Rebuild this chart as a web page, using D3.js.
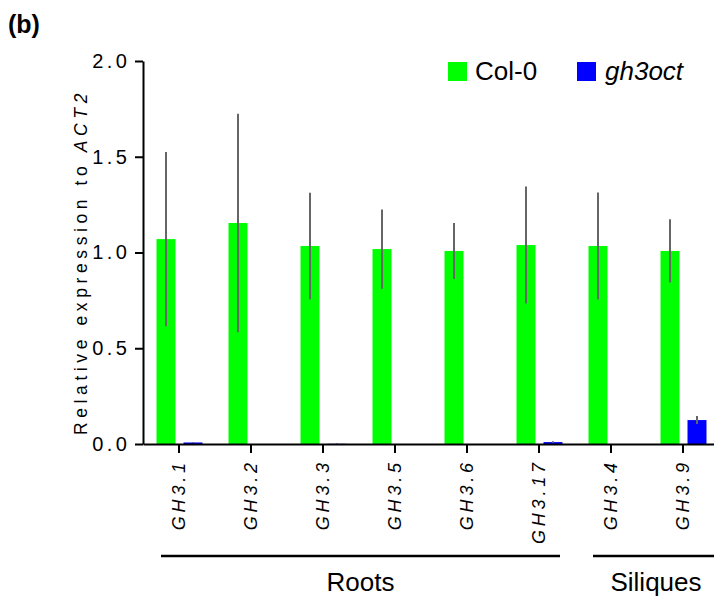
<!DOCTYPE html>
<html>
<head>
<meta charset="utf-8">
<script src="https://cdn.jsdelivr.net/npm/d3@7"></script>
<style>
  html, body { margin: 0; padding: 0; background: #fff; }
  svg { display: block; font-family: "Liberation Sans", Arial, sans-serif; }
</style>
</head>
<body>
<svg id="chart" width="714" height="597"></svg>
<script>
// Genes, grouped by tissue
const genes = ["GH3.1", "GH3.2", "GH3.3", "GH3.5", "GH3.6", "GH3.17", "GH3.4", "GH3.9"];
const tissues = [
  { name: "Roots", first: "GH3.1", last: "GH3.17" },
  { name: "Siliques", first: "GH3.4", last: "GH3.9" }
];
const series = ["Col-0", "gh3oct"];
const colors = ["#00ff00", "#0000ff"];

// Mean relative expression and error (±) per genotype
const col0Mean = [1.07, 1.154, 1.034, 1.018, 1.008, 1.039, 1.034, 1.008];
const col0Err  = [0.455, 0.57, 0.278, 0.207, 0.146, 0.305, 0.279, 0.165];
const octMean  = [0.008, 0.0, 0.001, 0.0, 0.0, 0.01, 0.0, 0.125];
const octErr   = [0.002, 0.0, 0.002, 0.0, 0.0, 0.004, 0.0, 0.021];

const yTicks = [0, 0.5, 1.0, 1.5, 2.0];

const svg = d3.select("#chart");
const plotLeft = 143, plotRight = 719, plotBottom = 444, plotTop = 61;

const x0 = d3.scaleBand().domain(genes).range([plotLeft, plotRight]).padding(0);
const bw = x0.bandwidth();
const x1 = d3.scaleBand().domain(series)
  .range([bw / 2 - 22.5, bw / 2 + 23.5]).paddingInner(8 / 27).paddingOuter(0);
const y = d3.scaleLinear().domain([0, 2]).range([plotBottom, plotTop]);

const rows = genes.map((g, i) => ({
  gene: g,
  vals: [
    { s: "Col-0", v: col0Mean[i], e: col0Err[i] },
    { s: "gh3oct", v: octMean[i], e: octErr[i] }
  ]
}));

// Bars
const groups = svg.append("g").selectAll("g").data(rows).join("g")
  .attr("transform", d => `translate(${x0(d.gene)},0)`);

groups.selectAll("rect").data(d => d.vals).join("rect")
  .attr("x", d => x1(d.s))
  .attr("width", x1.bandwidth())
  .attr("y", d => y(d.v))
  .attr("height", d => y(0) - y(d.v))
  .attr("fill", d => colors[series.indexOf(d.s)]);

// Error bars
groups.selectAll("line.err").data(d => d.vals.filter(v => v.e > 0)).join("line")
  .attr("class", "err")
  .attr("x1", d => x1(d.s) + x1.bandwidth() / 2)
  .attr("x2", d => x1(d.s) + x1.bandwidth() / 2)
  .attr("y1", d => y(d.v + d.e))
  .attr("y2", d => y(Math.max(0, d.v - d.e)))
  .attr("stroke", "#666")
  .attr("stroke-width", 2);

// Y axis
const yAxis = svg.append("g")
  .attr("transform", `translate(${plotLeft},0)`)
  .call(d3.axisLeft(y).tickValues(yTicks).tickFormat(d3.format(".1f")).tickSize(8).tickSizeOuter(0));
yAxis.select(".domain").attr("stroke", "#000").attr("stroke-width", 2);
yAxis.selectAll(".tick line").attr("stroke", "#000").attr("stroke-width", 2);
yAxis.selectAll(".tick text")
  .attr("x", -12.5)
  .attr("font-size", 20)
  .attr("letter-spacing", "3.5px")
  .attr("fill", "#000")
  .style("font-family", "'Liberation Sans', Arial, sans-serif");

// X axis
const xAxis = svg.append("g")
  .attr("transform", `translate(0,${plotBottom})`)
  .call(d3.axisBottom(x0).tickSize(9).tickSizeOuter(0));
xAxis.select(".domain").attr("stroke", "#000").attr("stroke-width", 2);
xAxis.selectAll(".tick line").attr("stroke", "#000").attr("stroke-width", 2);
xAxis.selectAll(".tick text")
  .attr("transform", "rotate(-90)")
  .attr("x", -15.2)
  .attr("y", 6)
  .attr("dy", 0)
  .attr("text-anchor", "end")
  .attr("font-size", 18)
  .attr("font-style", "italic")
  .attr("letter-spacing", "3.8px")
  .attr("fill", "#000")
  .style("font-family", "'Liberation Sans', Arial, sans-serif");

// Y axis title
const yTitle = svg.append("text")
  .attr("transform", `translate(87,${(88 + 432) / 2 + 2}) rotate(-90)`)
  .attr("text-anchor", "middle")
  .attr("font-size", 17.5)
  .attr("letter-spacing", "4.6px")
  .attr("fill", "#000");
yTitle.append("tspan").text("Relative expression to ");
yTitle.append("tspan").attr("font-style", "italic").text("ACT2");

// Tissue brackets
tissues.forEach((t, i) => {
  const xs = x0(t.first) + 18;
  const xe = i === tissues.length - 1 ? x0(t.last) + bw : x0(t.last) + bw - 15;
  svg.append("line")
    .attr("x1", xs).attr("x2", xe)
    .attr("y1", 556).attr("y2", 556)
    .attr("stroke", "#000").attr("stroke-width", 2.5);
  svg.append("text")
    .attr("x", (xs + xe) / 2)
    .attr("y", 591)
    .attr("text-anchor", "middle")
    .attr("font-size", 26)
    .attr("fill", "#000")
    .text(t.name);
});

// Legend
const legendPos = [{ x: 448, tx: 475 }, { x: 577, tx: 605 }];
series.forEach((s, i) => {
  svg.append("rect")
    .attr("x", legendPos[i].x).attr("y", 62)
    .attr("width", 19).attr("height", 19)
    .attr("fill", colors[i]);
  svg.append("text")
    .attr("x", legendPos[i].tx).attr("y", 80)
    .attr("font-size", 26)
    .attr("font-style", i === 1 ? "italic" : "normal")
    .attr("fill", "#000")
    .text(s);
});

// Panel label
svg.append("text")
  .attr("x", 8).attr("y", 33)
  .attr("font-size", 25)
  .attr("font-weight", "bold")
  .attr("fill", "#000")
  .text("(b)");
</script>
</body>
</html>
